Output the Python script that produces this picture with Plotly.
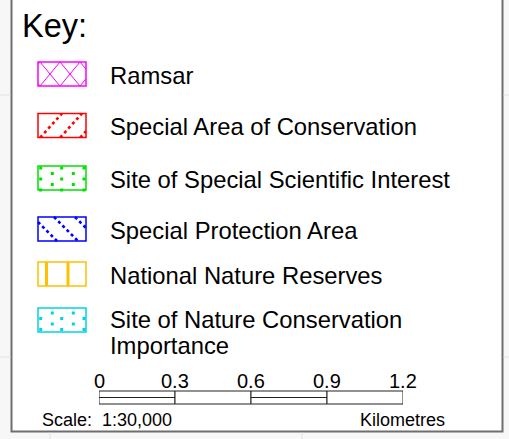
import plotly.graph_objects as go

W, H = 509, 439

# ---------------- data ----------------
title_text = "Key:"
legend_labels = [
    "Ramsar",
    "Special Area of Conservation",
    "Site of Special Scientific Interest",
    "Special Protection Area",
    "National Nature Reserves",
    "Site of Nature Conservation\nImportance",
]
legend_colors = ["#ff00ff", "#ff0000", "#00e000", "#0000ff", "#ffc000", "#00d4e4"]
legend_patterns = ["diamond", "fwd", "dots_a", "back", "vbars", "dots_b"]

scale_ticks = [0, 0.3, 0.6, 0.9, 1.2]
scale_tick_labels = ["0", "0.3", "0.6", "0.9", "1.2"]
scale_split = [True, False, True, False]
scale_text = "Scale:\u00a0 1:30,000"
unit_text = "Kilometres"

# ---------------- layout helpers ----------------
FONT = "Liberation Sans, Arial, sans-serif"
SW_X0, SW_X1 = 38, 86
SW_H = 24
swatch_tops = [62, 113.5, 166, 217, 262, 308]
text_x = 108
line_gap = 26

shapes = []
annotations = []
dot_x, dot_y, dot_c = [], [], []


def seg(x0, y0, x1, y1, color, width=1, dash="solid", xref="x"):
    shapes.append(dict(type="line", xref=xref, yref="y", x0=x0, y0=y0, x1=x1, y1=y1,
                       line=dict(color=color, width=width, dash=dash)))


def clip_line(c, slope, top, bottom):
    # line y = top + slope*(x - c), clipped to swatch box
    pts = []
    for x in (SW_X0, SW_X1):
        y = top + slope * (x - c)
        if top - 1e-6 <= y <= bottom + 1e-6:
            pts.append((x, y))
    for y in (top, bottom):
        x = c + (y - top) / slope
        if SW_X0 - 1e-6 <= x <= SW_X1 + 1e-6:
            pts.append((x, y))
    pts = sorted(set((round(a, 3), round(b, 3)) for a, b in pts))
    if len(pts) >= 2:
        return pts[0], pts[-1]
    return None


# background of the key panel
shapes.append(dict(type="rect", xref="x", yref="y", x0=11.5, x1=502.5, y0=-10, y1=431.5,
                   fillcolor="white", line=dict(color="#6e6e6e", width=2), layer="below"))
# faint grid lines outside panel
for yy in (95, 357):
    seg(0, yy, 10.5, yy, "#e2e2e2", 1)
    seg(503.5, yy, W, yy, "#e2e2e2", 1)
for xx in (50, 302):
    seg(xx, 432.5, xx, H, "#e2e2e2", 1)

for lab, col, pat, top in zip(legend_labels, legend_colors, legend_patterns, swatch_tops):
    bot = top + SW_H
    if pat == "diamond":
        for c in range(-60, 140, 20):
            for s in (1.2, -1.2):
                r = clip_line(c, s, top, bot)
                if r:
                    seg(r[0][0], r[0][1], r[1][0], r[1][1], col, 1)
    elif pat == "fwd":
        for c in (62, 82, 102):
            r = clip_line(c, -1.1, top, bot)
            if r:
                seg(r[0][0], r[0][1], r[1][0], r[1][1], col, 2.6, "dot")
    elif pat == "back":
        for c in (33, 54, 75):
            r = clip_line(c, 1.0, top, bot)
            if r:
                seg(r[0][0], r[0][1], r[1][0], r[1][1], col, 2.6, "dot")
    elif pat == "vbars":
        for xx in (46.5, 68):
            shapes.append(dict(type="rect", xref="x", yref="y", x0=xx - 1.5, x1=xx + 1.5,
                               y0=top, y1=bot, fillcolor=col, line=dict(width=0)))
    elif pat in ("dots_a", "dots_b"):
        colsA = [40.7, 61.7, 84]
        colsB = [52.3, 73.3]
        if pat == "dots_a":
            rows = [(2, colsA), (7.5, colsB), (13, colsA), (18.5, colsB), (24, colsA)]
        else:
            rows = [(5, colsB), (10.5, colsA), (16, colsB), (21.5, colsA)]
        for dy, xs in rows:
            for xx in xs:
                dot_x.append(xx)
                dot_y.append(top + dy)
                dot_c.append(col)
    # outline
    shapes.append(dict(type="rect", xref="x", yref="y", x0=SW_X0, x1=SW_X1, y0=top, y1=bot,
                       line=dict(color=col, width=1.5), fillcolor="rgba(0,0,0,0)"))
    # label text
    lines = lab.split("\n")
    cy = top + SW_H / 2
    if len(lines) > 1:
        cy = top + 10
    for i, t in enumerate(lines):
        annotations.append(dict(x=text_x, y=cy + i * line_gap + 1, xref="x", yref="y", text=t,
                                showarrow=False, xanchor="left", yanchor="middle",
                                font=dict(family=FONT, size=23.8, color="black")))

annotations.append(dict(x=20, y=26, xref="x", yref="y", text=title_text, showarrow=False,
                        xanchor="left", yanchor="middle",
                        font=dict(family=FONT, size=32.5, color="black")))

# scale bar drawn on its own axis (km)
bar_y0, bar_y1 = 391, 404
for i in range(len(scale_ticks) - 1):
    shapes.append(dict(type="rect", xref="x2", yref="y", x0=scale_ticks[i], x1=scale_ticks[i + 1],
                       y0=bar_y0, y1=bar_y1, fillcolor="white", line=dict(color="#222222", width=1)))
    if scale_split[i]:
        seg(scale_ticks[i], (bar_y0 + bar_y1) / 2, scale_ticks[i + 1], (bar_y0 + bar_y1) / 2,
            "#222222", 1, xref="x2")
for v, t in zip(scale_ticks, scale_tick_labels):
    annotations.append(dict(x=v, y=381, xref="x2", yref="y", text=t, showarrow=False,
                            xanchor="center", yanchor="middle",
                            font=dict(family=FONT, size=20, color="black")))
annotations.append(dict(x=40, y=420, xref="x", yref="y", text=scale_text, showarrow=False,
                        xanchor="left", yanchor="middle",
                        font=dict(family=FONT, size=18, color="black")))
annotations.append(dict(x=358, y=420, xref="x", yref="y", text=unit_text, showarrow=False,
                        xanchor="left", yanchor="middle",
                        font=dict(family=FONT, size=18, color="black")))

fig = go.Figure()
fig.add_trace(go.Scatter(x=dot_x, y=dot_y, mode="markers", xaxis="x", yaxis="y",
                         marker=dict(symbol="square", size=3, color=dot_c, line=dict(width=0)),
                         hoverinfo="skip", showlegend=False))
fig.add_trace(go.Scatter(x=[scale_ticks[0], scale_ticks[-1]], y=[-50, -50], mode="markers",
                         xaxis="x2", yaxis="y", marker=dict(opacity=0),
                         hoverinfo="skip", showlegend=False))

fig.update_layout(
    width=W, height=H,
    margin=dict(l=0, r=0, t=0, b=0),
    paper_bgcolor="#f7f7f7", plot_bgcolor="rgba(0,0,0,0)",
    xaxis=dict(range=[0, W], visible=False, domain=[0, 1], fixedrange=True),
    xaxis2=dict(range=[scale_ticks[0], scale_ticks[-1]], visible=False,
                domain=[99 / W, 403 / W], anchor="y", fixedrange=True),
    yaxis=dict(range=[H, 0], visible=False, domain=[0, 1], fixedrange=True),
    shapes=shapes,
    annotations=annotations,
    showlegend=False,
)

fig.write_html("out.html", config={"displayModeBar": False},
               post_script="document.body.style.margin='0';document.body.style.overflow='hidden';")
